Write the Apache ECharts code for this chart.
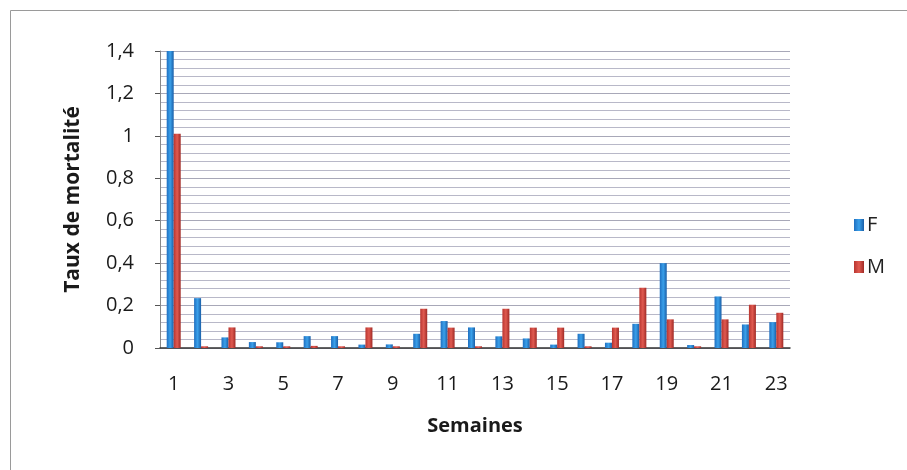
<!DOCTYPE html>
<html><head><meta charset="utf-8">
<script src="https://cdn.jsdelivr.net/npm/echarts@6/dist/echarts.min.js"></script>
<style>html,body{margin:0;padding:0;background:#fff}#c{width:907px;height:470px}</style>
</head><body><div id="c"></div>
<script>
const categories = ['1','2','3','4','5','6','7','8','9','10','11','12','13','14','15','16','17','18','19','20','21','22','23'];
const valuesF = [1.40,0.235,0.05,0.028,0.027,0.056,0.056,0.016,0.017,0.067,0.127,0.097,0.055,0.045,0.016,0.067,0.025,0.114,0.40,0.014,0.243,0.111,0.122];
const valuesM = [1.01,0.008,0.097,0.008,0.008,0.01,0.008,0.097,0.008,0.185,0.096,0.008,0.185,0.096,0.096,0.008,0.096,0.284,0.135,0.008,0.135,0.204,0.166];
const yTicks = ['0','0,2','0,4','0,6','0,8','1','1,2','1,4'];

const chart = echarts.init(document.getElementById('c'));
const grad = (a,b,c) => new echarts.graphic.LinearGradient(0,0,1,0,[{offset:0,color:a},{offset:0.5,color:b},{offset:1,color:c}]);
chart.setOption({
  animation:false,
  graphic:[{type:'rect',shape:{x:10.5,y:10.5,width:920,height:480},style:{fill:'none',stroke:'#9a9a9a',lineWidth:1}}],
  grid:{left:160,right:117,top:51,bottom:122},
  legend:{orient:'vertical',left:849,top:210,itemGap:22,itemWidth:10,itemHeight:12,
    icon:'rect',textStyle:{fontFamily:'Open Sans',fontSize:20,color:'#222',padding:[0,0,0,-2]},data:['F','M']},
  xAxis:{type:'category',data:categories,
    axisLine:{lineStyle:{color:'#333',width:1.5}},axisTick:{show:false},
    axisLabel:{interval:1,margin:26,fontFamily:'Open Sans',fontSize:20,color:'#1a1a1a'},
    name:'Semaines',nameLocation:'middle',nameGap:68,
    nameTextStyle:{fontFamily:'Open Sans',fontWeight:'bold',fontSize:20,color:'#1a1a1a'}},
  yAxis:{type:'value',min:0,max:1.4,interval:0.2,
    axisLine:{show:true,lineStyle:{color:'#888'}},axisTick:{show:true,length:5,lineStyle:{color:'#555'}},
    axisLabel:{margin:26,fontFamily:'Open Sans',fontSize:20,color:'#1a1a1a',
      formatter:(v)=>yTicks[Math.round(v/0.2)]},
    splitLine:{show:true,lineStyle:{color:'#a8a8b8',width:1}},
    minorTick:{show:false,splitNumber:5},
    minorSplitLine:{show:true,lineStyle:{color:'#b8b8c8',width:1}},
    name:'Taux de mortalité',nameLocation:'middle',nameGap:76,
    nameTextStyle:{fontFamily:'Open Sans',fontWeight:'bold',fontSize:21,color:'#1a1a1a'}},
  series:[
    {name:'F',type:'bar',data:valuesF,barWidth:7,barGap:'0%',
     itemStyle:{color:grad('#1f6fc0','#3aa0ea','#1a5fa8')}},
    {name:'M',type:'bar',data:valuesM,barWidth:7,
     itemStyle:{color:grad('#b83530','#e05a50','#a02a26')}}
  ]
});
</script></body></html>
